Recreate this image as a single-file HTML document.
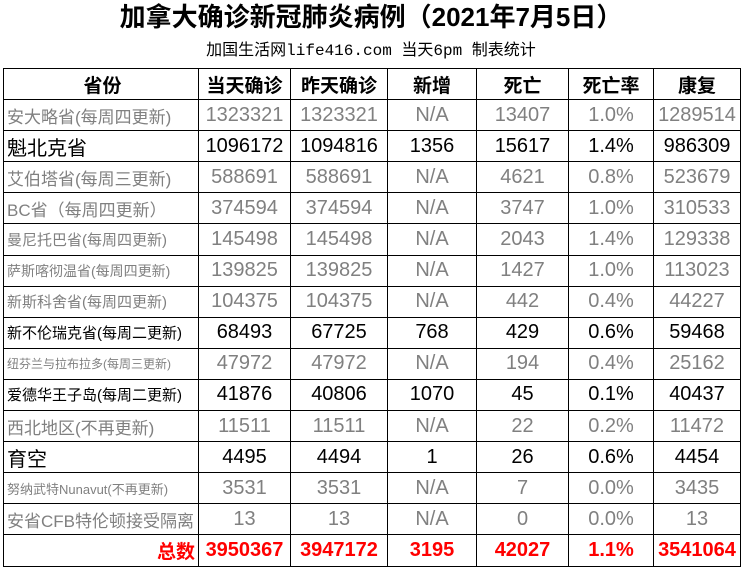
<!DOCTYPE html>
<html><head><meta charset="utf-8"><style>
body{margin:0;width:742px;height:571px;background:#fff;font-family:"Liberation Sans","Noto Sans CJK SC",sans-serif;position:relative;overflow:hidden}
.t{position:absolute;left:0;width:742px;text-align:center;top:0;font-size:26px;font-weight:bold;line-height:34px;color:#000}
.s{position:absolute;left:0;width:742px;text-align:center;top:40px;font-size:16px;line-height:22px;font-family:"Liberation Mono","Noto Sans CJK SC",monospace;color:#000}
table{position:absolute;left:3px;top:68px;border-collapse:collapse;table-layout:fixed}
td{border:1.5px solid #000;height:30.1px;padding:0;text-align:center;font-size:20px;color:#808080;white-space:nowrap;overflow:hidden}
td:first-child{text-align:left;padding-left:3px;font-size:17px}
tr.h td{color:#000;font-weight:bold;font-size:19px;text-align:center}
tr.b td{color:#000}
tr.tot td{color:#f00;font-weight:bold}
tr.tot td:first-child{text-align:right;padding-right:3px;font-size:19px}
</style></head><body>
<div class="t">加拿大确诊新冠肺炎病例（2021年7月5日）</div>
<div class="s">加国生活网life416.com 当天6pm 制表统计</div>
<table>
<colgroup><col style="width:195px"><col style="width:92px"><col style="width:97px"><col style="width:89px"><col style="width:92px"><col style="width:85px"><col style="width:87px"></colgroup>
<tr class="h"><td>省份</td><td>当天确诊</td><td>昨天确诊</td><td>新增</td><td>死亡</td><td>死亡率</td><td>康复</td></tr>
<tr><td>安大略省(每周四更新)</td><td>1323321</td><td>1323321</td><td>N/A</td><td>13407</td><td>1.0%</td><td>1289514</td></tr>
<tr class="b"><td style="font-size:20px">魁北克省</td><td>1096172</td><td>1094816</td><td>1356</td><td>15617</td><td>1.4%</td><td>986309</td></tr>
<tr><td>艾伯塔省(每周三更新)</td><td>588691</td><td>588691</td><td>N/A</td><td>4621</td><td>0.8%</td><td>523679</td></tr>
<tr><td>BC省（每周四更新）</td><td>374594</td><td>374594</td><td>N/A</td><td>3747</td><td>1.0%</td><td>310533</td></tr>
<tr><td style="font-size:15px">曼尼托巴省(每周四更新)</td><td>145498</td><td>145498</td><td>N/A</td><td>2043</td><td>1.4%</td><td>129338</td></tr>
<tr><td style="font-size:14px">萨斯喀彻温省(每周四更新)</td><td>139825</td><td>139825</td><td>N/A</td><td>1427</td><td>1.0%</td><td>113023</td></tr>
<tr><td style="font-size:15px">新斯科舍省(每周四更新)</td><td>104375</td><td>104375</td><td>N/A</td><td>442</td><td>0.4%</td><td>44227</td></tr>
<tr class="b"><td style="font-size:15px">新不伦瑞克省(每周二更新)</td><td>68493</td><td>67725</td><td>768</td><td>429</td><td>0.6%</td><td>59468</td></tr>
<tr><td style="font-size:12px">纽芬兰与拉布拉多(每周三更新)</td><td>47972</td><td>47972</td><td>N/A</td><td>194</td><td>0.4%</td><td>25162</td></tr>
<tr class="b"><td style="font-size:15px">爱德华王子岛(每周二更新)</td><td>41876</td><td>40806</td><td>1070</td><td>45</td><td>0.1%</td><td>40437</td></tr>
<tr><td>西北地区(不再更新)</td><td>11511</td><td>11511</td><td>N/A</td><td>22</td><td>0.2%</td><td>11472</td></tr>
<tr class="b"><td style="font-size:20px">育空</td><td>4495</td><td>4494</td><td>1</td><td>26</td><td>0.6%</td><td>4454</td></tr>
<tr><td style="font-size:13px">努纳武特Nunavut(不再更新)</td><td>3531</td><td>3531</td><td>N/A</td><td>7</td><td>0.0%</td><td>3435</td></tr>
<tr><td>安省CFB特伦顿接受隔离</td><td>13</td><td>13</td><td>N/A</td><td>0</td><td>0.0%</td><td>13</td></tr>
<tr class="tot"><td>总数</td><td>3950367</td><td>3947172</td><td>3195</td><td>42027</td><td>1.1%</td><td>3541064</td></tr>
</table>
</body></html>
